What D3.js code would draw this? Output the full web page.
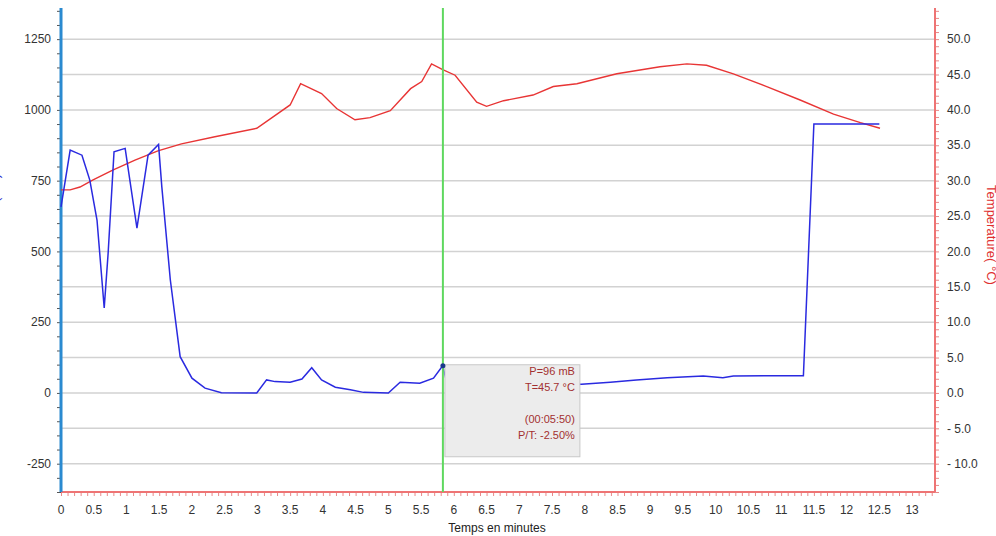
<!DOCTYPE html>
<html>
  <head>
    <meta charset="utf-8" />
    <title>Pression et température</title>
    <style>
      body,
      html {
        margin: 0;
        padding: 0;
        background: #fff;
      }
      #svg {
        display: block;
        font-family: 'Liberation Sans', Arial, sans-serif;
      }
    </style>
  </head>
  <body>
    <svg id="svg" width="996" height="536"></svg>
    <script src="https://cdn.jsdelivr.net/npm/d3@7"></script>
    <script>
      // pression (mB) en fonction du temps (minutes)
      const pressureTime = [
        0, 0.03, 0.14, 0.32, 0.44, 0.55, 0.66, 0.72, 0.81, 0.98, 1.16, 1.33,
        1.49, 1.54, 1.67, 1.82, 2.0, 2.2, 2.45, 2.99, 3.14, 3.27, 3.5, 3.68,
        3.83, 3.98, 4.19, 4.42, 4.62, 5.0, 5.18, 5.48, 5.69, 5.83, 5.9, 7.95,
        8.39, 8.79, 9.26, 9.81, 10.11, 10.27, 11.31, 11.34, 11.5, 12.5
      ];
      const pressureValues = [
        657, 700, 858, 840, 752, 611, 300, 494, 852, 864, 582, 840,
        878, 728, 399, 128, 52, 17, 1, 0, 46, 40, 38, 49,
        89, 46, 20, 11, 2, 0, 38, 34, 52, 96, 30, 31,
        38, 46, 54, 60, 54, 60, 61, 61, 950, 950
      ];

      // température (°C)
      const tempTime = [
        0, 0.14, 0.29, 0.49, 0.79, 1.13, 1.48, 1.84, 2.35, 2.99, 3.5, 3.66,
        3.98, 4.21, 4.49, 4.72, 5.03, 5.34, 5.51, 5.66, 5.83, 6.02, 6.35, 6.5,
        6.76, 7.21, 7.52, 7.88, 8.49, 9.15, 9.56, 9.86, 10.27, 10.78, 11.29,
        11.8, 12.21, 12.51
      ];
      const tempValues = [
        28.7, 28.7, 29.1, 30.1, 31.5, 32.9, 34.2, 35.2, 36.2, 37.4, 40.7, 43.7,
        42.3, 40.2, 38.6, 38.9, 39.9, 43.0, 44.0, 46.5, 45.7, 44.9, 41.1, 40.5,
        41.3, 42.1, 43.3, 43.7, 45.1, 46.1, 46.5, 46.3, 45.1, 43.3, 41.4,
        39.4, 38.2, 37.4
      ];

      const timeTicks = d3.range(0, 13.01, 0.5);
      const pressureTicks = [-250, 0, 250, 500, 750, 1000, 1250];
      const tempTicks = d3.range(-10, 50.1, 5);

      const cursorTime = 5.8333;
      const cursorPressure = 96;
      const tooltipLines = ['P=96 mB', 'T=45.7 °C', '', '(00:05:50)', 'P/T: -2.50%'];

      const plotLeft = 61;
      const plotRight = 935;
      const plotTop = 8;
      const plotBottom = 492;

      const xScale = d3.scaleLinear().domain([0, 13.35]).range([plotLeft, plotRight]);
      const yScale = d3.scaleLinear().domain([-350, 1360]).range([plotBottom, plotTop]);
      const tScale = d3.scaleLinear().domain([-14, 54.4]).range([plotBottom, plotTop]);

      const svg = d3.select('#svg');

      // grille
      svg
        .append('g')
        .selectAll('line')
        .data(tempTicks)
        .enter()
        .append('line')
        .attr('x1', plotLeft)
        .attr('x2', plotRight)
        .attr('y1', (d) => tScale(d))
        .attr('y2', (d) => tScale(d))
        .attr('stroke', '#d2d2d2')
        .attr('stroke-width', 1.5);

      // axe des x
      const xAxis = svg
        .append('g')
        .attr('transform', `translate(0,${plotBottom})`)
        .call(
          d3
            .axisBottom(xScale)
            .tickValues(d3.range(0, 13.35, 0.1))
            .tickSize(4)
            .tickFormat('')
        );
      xAxis.select('.domain').remove();
      xAxis.selectAll('line').attr('stroke', '#e88a8a');

      svg
        .append('g')
        .selectAll('text')
        .data(timeTicks)
        .enter()
        .append('text')
        .attr('x', (d) => xScale(d))
        .attr('y', plotBottom + 22)
        .attr('text-anchor', 'middle')
        .attr('font-size', 12)
        .attr('fill', '#333')
        .text((d) => d3.format('')(d));

      svg
        .append('line')
        .attr('x1', plotLeft)
        .attr('x2', plotRight + 1)
        .attr('y1', plotBottom)
        .attr('y2', plotBottom)
        .attr('stroke', '#ee7474')
        .attr('stroke-width', 2);

      svg
        .append('text')
        .attr('x', 497)
        .attr('y', 532)
        .attr('text-anchor', 'middle')
        .attr('font-size', 12)
        .attr('fill', '#222')
        .text('Temps en minutes');

      // axe gauche (pression)
      const yAxis = svg
        .append('g')
        .attr('transform', `translate(${plotLeft},0)`)
        .call(
          d3
            .axisLeft(yScale)
            .tickValues(d3.range(-350, 1351, 50))
            .tickSize(4)
            .tickFormat('')
        );
      yAxis.select('.domain').remove();
      yAxis.selectAll('line').attr('stroke', '#555');

      svg
        .append('g')
        .selectAll('text')
        .data(pressureTicks)
        .enter()
        .append('text')
        .attr('x', 51)
        .attr('y', (d) => yScale(d))
        .attr('dy', '0.35em')
        .attr('text-anchor', 'end')
        .attr('font-size', 12)
        .attr('fill', '#333')
        .text((d) => d);

      svg
        .append('line')
        .attr('x1', plotLeft)
        .attr('x2', plotLeft)
        .attr('y1', plotTop)
        .attr('y2', plotBottom)
        .attr('stroke', '#2a8ad0')
        .attr('stroke-width', 3);

      // titre gauche, coupé par le bord comme sur la capture
      svg
        .append('text')
        .attr('transform', 'translate(-1,215) rotate(-90)')
        .attr('text-anchor', 'middle')
        .attr('font-size', 13)
        .attr('fill', '#3030d0')
        .text('Pression (mB)');

      // axe droit (température)
      const tAxis = svg
        .append('g')
        .attr('transform', `translate(${plotRight},0)`)
        .call(
          d3
            .axisRight(tScale)
            .tickValues(d3.range(-14, 54.1, 1))
            .tickSize(4)
            .tickFormat('')
        );
      tAxis.select('.domain').remove();
      tAxis.selectAll('line').attr('stroke', '#e88a8a');

      svg
        .append('g')
        .selectAll('text')
        .data(tempTicks)
        .enter()
        .append('text')
        .attr('x', 947)
        .attr('y', (d) => tScale(d))
        .attr('dy', '0.35em')
        .attr('font-size', 12)
        .attr('fill', '#333')
        .text((d) => (d < 0 ? '- ' + Math.abs(d).toFixed(1) : d.toFixed(1)));

      svg
        .append('line')
        .attr('x1', plotRight)
        .attr('x2', plotRight)
        .attr('y1', plotTop)
        .attr('y2', plotBottom)
        .attr('stroke', '#ee7474')
        .attr('stroke-width', 2);

      svg
        .append('text')
        .attr('transform', 'translate(987,235) rotate(90)')
        .attr('text-anchor', 'middle')
        .attr('font-size', 13)
        .attr('fill', '#e03030')
        .text('Temperature( °C)');

      // courbes
      const pressureLine = d3
        .line()
        .x((d, i) => xScale(pressureTime[i]))
        .y((d) => yScale(d));

      const tempLine = d3
        .line()
        .x((d, i) => xScale(tempTime[i]))
        .y((d) => tScale(d));

      svg
        .append('path')
        .attr('d', tempLine(tempValues))
        .attr('fill', 'none')
        .attr('stroke', '#e83535')
        .attr('stroke-width', 1.4);

      svg
        .append('path')
        .attr('d', pressureLine(pressureValues))
        .attr('fill', 'none')
        .attr('stroke', '#2a2ae0')
        .attr('stroke-width', 1.5);

      // curseur et infobulle
      const cx = xScale(cursorTime);
      const cy = yScale(cursorPressure);

      svg
        .append('rect')
        .attr('x', cx + 2)
        .attr('y', cy - 1)
        .attr('width', 135)
        .attr('height', 92)
        .attr('fill', '#ececec')
        .attr('stroke', '#c8c8c8');

      svg
        .append('line')
        .attr('x1', cx)
        .attr('x2', cx)
        .attr('y1', plotTop)
        .attr('y2', plotBottom)
        .attr('stroke', '#5fd85f')
        .attr('stroke-width', 2);

      svg
        .append('circle')
        .attr('cx', cx)
        .attr('cy', cy)
        .attr('r', 2.5)
        .attr('fill', '#1a3a8a');

      svg
        .append('g')
        .selectAll('text')
        .data(tooltipLines)
        .enter()
        .append('text')
        .attr('x', cx + 132)
        .attr('y', (d, i) => cy + 9 + i * 16)
        .attr('text-anchor', 'end')
        .attr('font-size', 11)
        .attr('fill', '#a33030')
        .text((d) => d);
    </script>
  </body>
</html>
